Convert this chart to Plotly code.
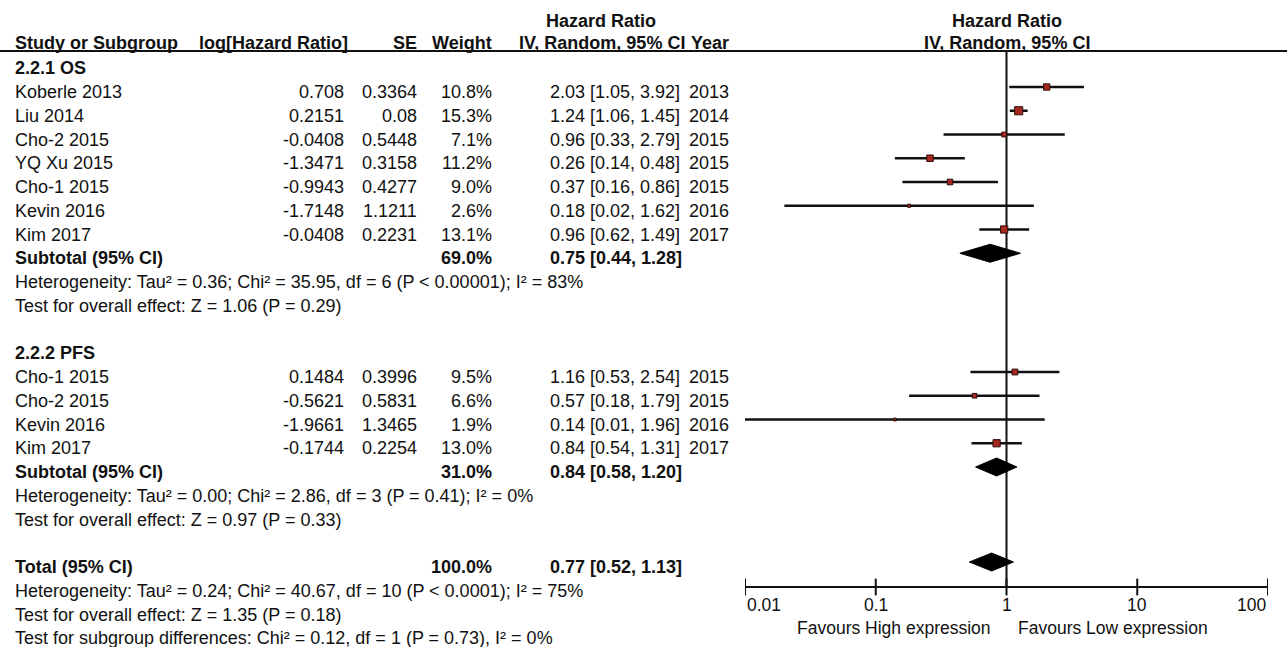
import math
import plotly.graph_objects as go

# ---------------- data ----------------
study_os = ["Koberle 2013", "Liu 2014", "Cho-2 2015", "YQ Xu 2015", "Cho-1 2015", "Kevin 2016", "Kim 2017"]
loghr_os = ["0.708", "0.2151", "-0.0408", "-1.3471", "-0.9943", "-1.7148", "-0.0408"]
se_os = ["0.3364", "0.08", "0.5448", "0.3158", "0.4277", "1.1211", "0.2231"]
weight_os = [10.8, 15.3, 7.1, 11.2, 9.0, 2.6, 13.1]
hr_os = [2.03, 1.24, 0.96, 0.26, 0.37, 0.18, 0.96]
lo_os = [1.05, 1.06, 0.33, 0.14, 0.16, 0.02, 0.62]
hi_os = [3.92, 1.45, 2.79, 0.48, 0.86, 1.62, 1.49]
year_os = ["2013", "2014", "2015", "2015", "2015", "2016", "2017"]

study_pfs = ["Cho-1 2015", "Cho-2 2015", "Kevin 2016", "Kim 2017"]
loghr_pfs = ["0.1484", "-0.5621", "-1.9661", "-0.1744"]
se_pfs = ["0.3996", "0.5831", "1.3465", "0.2254"]
weight_pfs = [9.5, 6.6, 1.9, 13.0]
hr_pfs = [1.16, 0.57, 0.14, 0.84]
lo_pfs = [0.53, 0.18, 0.01, 0.54]
hi_pfs = [2.54, 1.79, 1.96, 1.31]
year_pfs = ["2015", "2015", "2016", "2017"]

pooled_names = ["Subtotal (95% CI)", "Subtotal (95% CI)", "Total (95% CI)"]
pooled_weight = [69.0, 31.0, 100.0]
pooled_hr = [0.75, 0.84, 0.77]
pooled_lo = [0.44, 0.58, 0.52]
pooled_hi = [1.28, 1.20, 1.13]

group_titles = ["2.2.1 OS", "2.2.2 PFS"]
stats_os = ["Heterogeneity: Tau² = 0.36; Chi² = 35.95, df = 6 (P < 0.00001); I² = 83%",
            "Test for overall effect: Z = 1.06 (P = 0.29)"]
stats_pfs = ["Heterogeneity: Tau² = 0.00; Chi² = 2.86, df = 3 (P = 0.41); I² = 0%",
             "Test for overall effect: Z = 0.97 (P = 0.33)"]
stats_total = ["Heterogeneity: Tau² = 0.24; Chi² = 40.67, df = 10 (P < 0.0001); I² = 75%",
               "Test for overall effect: Z = 1.35 (P = 0.18)",
               "Test for subgroup differences: Chi² = 0.12, df = 1 (P = 0.73), I² = 0%"]

tick_vals = [0.01, 0.1, 1, 10, 100]
tick_text = ["0.01", "0.1", "1", "10", "100"]
favours_left = "Favours High expression"
favours_right = "Favours Low expression"

# ---------------- layout helpers ----------------
W, H = 1287, 647
FONT = "Liberation Sans, Arial, sans-serif"
FS = 18
X0_PX, X1_PX = 745, 1268
HEADER_LINE_Y = 51
AXIS_Y = 587


def row_y(i):
    return 63.25 + 23.75 * i


TXT_OFF = 5

fig = go.Figure()
ann = []


def px(x):
    return x / W


def text(x, y, s, anchor="left", bold=False, size=FS):
    ann.append(dict(x=px(x), y=y, xref="paper", yref="y", text=("<b>%s</b>" % s) if bold else s,
                    showarrow=False, xanchor=anchor, yanchor="middle",
                    font=dict(family=FONT, size=size, color="#111111")))


# header
text(601, 21, "Hazard Ratio", "center", True)
text(13, 43, "Study or Subgroup", "left", True)
text(350, 43, "log[Hazard Ratio]", "right", True)
text(419, 43, "SE", "right", True)
text(494, 43, "Weight", "right", True)
text(687, 43, "IV, Random, 95% CI", "right", True)
text(731, 43, "Year", "right", True)
ann.append(dict(x=0, y=21, xref="x", yref="y", text="<b>Hazard Ratio</b>", showarrow=False,
                xanchor="center", yanchor="middle", font=dict(family=FONT, size=FS, color="#111111")))
ann.append(dict(x=0, y=43, xref="x", yref="y", text="<b>IV, Random, 95% CI</b>", showarrow=False,
                xanchor="center", yanchor="middle", font=dict(family=FONT, size=FS, color="#111111")))


def study_rows(start, names, lhr, se, w, hr, lo, hi, yr):
    for k in range(len(names)):
        r = row_y(start + k)
        t = r + TXT_OFF
        text(13, t, names[k])
        text(346, t, lhr[k], "right")
        text(419, t, se[k], "right")
        text(494, t, "%.1f%%" % w[k], "right")
        text(548, t, "%.2f [%.2f, %.2f]" % (hr[k], lo[k], hi[k]), "left")
        text(731, t, yr[k], "right")
        fig.add_trace(go.Scatter(x=[lo[k], hi[k]], y=[r, r], mode="lines",
                                 line=dict(color="#111111", width=2.5), hoverinfo="skip"))
        fig.add_trace(go.Scatter(x=[hr[k]], y=[r], mode="markers",
                                 marker=dict(symbol="square", size=2 + 0.4 * w[k], color="#a8281f",
                                             line=dict(color="#2a0d08", width=1)), hoverinfo="skip"))


def pooled_row(i, k):
    r = row_y(i)
    t = r + TXT_OFF
    text(13, t, pooled_names[k], "left", True)
    text(494, t, "%.1f%%" % pooled_weight[k], "right", True)
    text(548, t, "%.2f [%.2f, %.2f]" % (pooled_hr[k], pooled_lo[k], pooled_hi[k]), "left", True)
    fig.add_trace(go.Scatter(x=[pooled_lo[k], pooled_hr[k], pooled_hi[k], pooled_hr[k], pooled_lo[k]],
                             y=[r, r - 9, r, r + 9, r], mode="lines", fill="toself",
                             fillcolor="#000000", line=dict(color="#000000", width=1), hoverinfo="skip"))


# null line first (under marks)
fig.add_trace(go.Scatter(x=[1, 1], y=[HEADER_LINE_Y, AXIS_Y], mode="lines",
                         line=dict(color="#111111", width=2), hoverinfo="skip"))

# OS group
text(13, row_y(0) + TXT_OFF, group_titles[0], "left", True)
study_rows(1, study_os, loghr_os, se_os, weight_os, hr_os, lo_os, hi_os, year_os)
pooled_row(8, 0)
for j, s in enumerate(stats_os):
    text(13, row_y(9 + j) + TXT_OFF, s)

# PFS group
text(13, row_y(12) + TXT_OFF, group_titles[1], "left", True)
study_rows(13, study_pfs, loghr_pfs, se_pfs, weight_pfs, hr_pfs, lo_pfs, hi_pfs, year_pfs)
pooled_row(17, 1)
for j, s in enumerate(stats_pfs):
    text(13, row_y(18 + j) + TXT_OFF, s)

# Total
pooled_row(21, 2)
for j, s in enumerate(stats_total):
    text(13, row_y(22 + j) + TXT_OFF, s)

# bottom axis
fig.add_trace(go.Scatter(x=[tick_vals[0], tick_vals[-1]], y=[AXIS_Y, AXIS_Y], mode="lines",
                         line=dict(color="#111111", width=2), hoverinfo="skip"))
fig.add_trace(go.Scatter(x=tick_vals, y=[AXIS_Y] * len(tick_vals), mode="markers",
                         marker=dict(symbol="line-ns", size=12, line=dict(color="#111111", width=2)),
                         hoverinfo="skip"))
for k, (v, s) in enumerate(zip(tick_vals, tick_text)):
    anchor = "left" if k == 0 else ("right" if k == len(tick_vals) - 1 else "center")
    ann.append(dict(x=math.log10(v), y=605, xref="x", yref="y", text=s, showarrow=False,
                    xanchor=anchor, yanchor="middle", font=dict(family=FONT, size=17.5, color="#111111")))
ann.append(dict(x=math.log10(tick_vals[2]), y=628, xref="x", yref="y", text=favours_left, showarrow=False,
                xanchor="right", xshift=-14, yanchor="middle", font=dict(family=FONT, size=17.5, color="#111111")))
ann.append(dict(x=math.log10(tick_vals[2]), y=628, xref="x", yref="y", text=favours_right, showarrow=False,
                xanchor="left", xshift=9, yanchor="middle", font=dict(family=FONT, size=17.5, color="#111111")))

fig.update_layout(
    width=W, height=H,
    margin=dict(l=0, r=0, t=0, b=0),
    paper_bgcolor="#ffffff", plot_bgcolor="#ffffff",
    showlegend=False,
    xaxis=dict(type="log", range=[-2, 2], domain=[X0_PX / W, X1_PX / W], visible=False, fixedrange=True),
    yaxis=dict(range=[H, 0], domain=[0, 1], visible=False, fixedrange=True),
    annotations=ann,
    shapes=[dict(type="line", xref="paper", yref="y", x0=0, x1=1, y0=HEADER_LINE_Y, y1=HEADER_LINE_Y,
                 line=dict(color="#111111", width=2))],
)

fig.write_html("out.html", config={"displayModeBar": False},
               post_script="document.body.style.margin='0';document.body.style.overflow='hidden';")
